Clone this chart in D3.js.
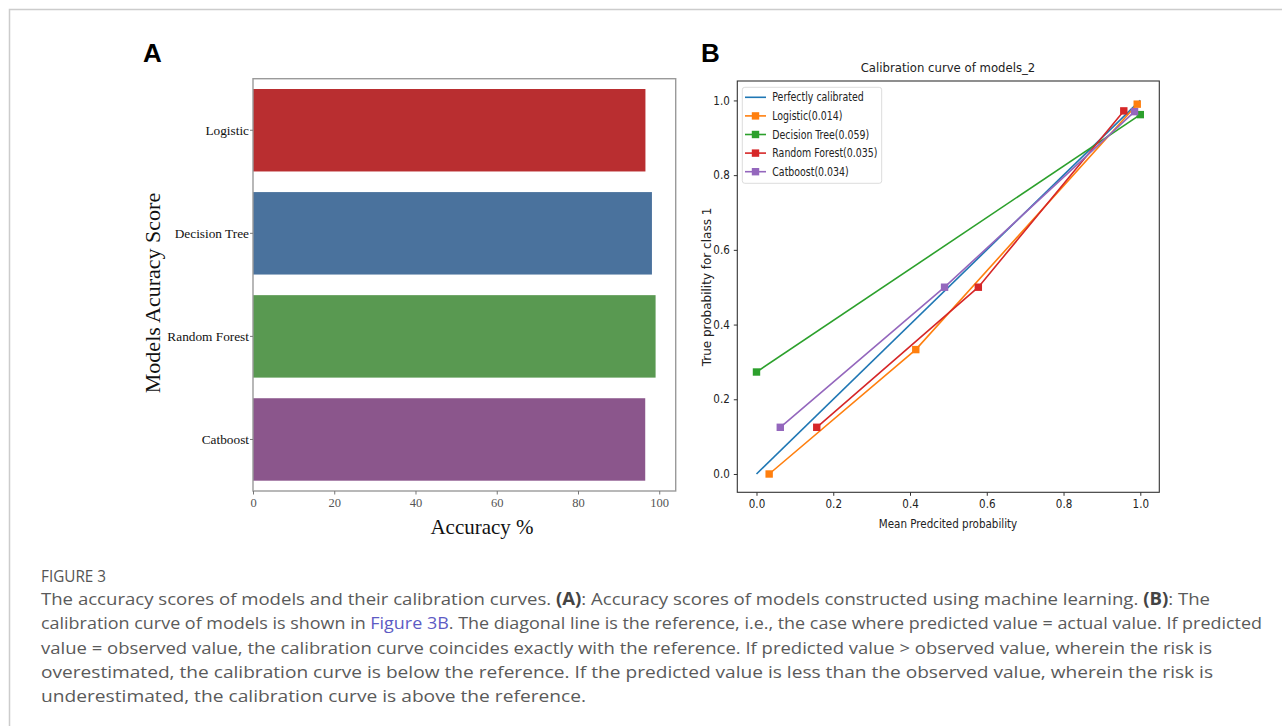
<!doctype html>
<html>
<head>
<meta charset="UTF-8">
<title>Figure 3</title>
<script src="https://d3js.org/d3.v7.min.js"></script>
<style>
  body{ margin:0; background:#fff; }
  svg{ display:block; }
  .serif{ font-family:"Liberation Serif","Times New Roman",serif; }
  .cond{ font-family:"DejaVu Sans Condensed","DejaVu Sans",sans-serif; font-stretch:condensed; }
</style>
</head>
<body>
<svg id="fig" width="1282" height="726"></svg>
<script>
// panel A data
var models = ["Logistic", "Decision Tree", "Random Forest", "Catboost"];
var accuracy = [96.6, 98.2, 99.1, 96.55];
var barColors = ["#b92e30", "#4a729d", "#599951", "#8b568c"];
var accTicks = [0, 20, 40, 60, 80, 100];

// panel B data
var curveNames = ["Perfectly calibrated", "Logistic(0.014)", "Decision Tree(0.059)", "Random Forest(0.035)", "Catboost(0.034)"];
var curveColors = ["#1f77b4", "#ff7f0e", "#2ca02c", "#d62728", "#9467bd"];
var curveX = [
  [0, 1],
  [0.033, 0.415, 0.992],
  [0.0, 1.0],
  [0.157, 0.578, 0.957],
  [0.062, 0.49, 0.985]
];
var curveY = [
  [0, 1],
  [0.0, 0.333, 0.99],
  [0.273, 0.962],
  [0.125, 0.5, 0.972],
  [0.125, 0.5, 0.97]
];
var probTicks = [0, 0.2, 0.4, 0.6, 0.8, 1.0];

var svg = d3.select("#fig");

// figure frame
svg.append("path").attr("d", "M9.5,726 V9.5 H1282").attr("fill", "none").attr("stroke", "#cccccc").attr("stroke-width", 1.5);

svg.append("text").attr("x", 143).attr("y", 62).text("A")
  .attr("font-family", "Liberation Sans, Arial, sans-serif").attr("font-weight", "bold").attr("font-size", 26);
svg.append("text").attr("x", 701).attr("y", 62).text("B")
  .attr("font-family", "Liberation Sans, Arial, sans-serif").attr("font-weight", "bold").attr("font-size", 26);

// ---------- panel A ----------
var a = {left: 253, right: 675.7, top: 78.7, bottom: 491};
var xA = d3.scaleLinear().domain([0, 104.05]).range([a.left, a.right]);
var yA = d3.scaleBand().domain(models).range([a.top, a.bottom]).paddingInner(0.2).paddingOuter(0.1);
var gA = svg.append("g");

gA.selectAll("rect.bar").data(models).enter().append("rect")
  .attr("class", "bar")
  .attr("x", xA(0))
  .attr("y", function(d){ return yA(d); })
  .attr("width", function(d, i){ return xA(accuracy[i]) - xA(0); })
  .attr("height", yA.bandwidth())
  .attr("fill", function(d, i){ return barColors[i]; });

gA.append("rect").attr("x", a.left).attr("y", a.top)
  .attr("width", a.right - a.left).attr("height", a.bottom - a.top)
  .attr("fill", "none").attr("stroke", "#9a9a9a").attr("stroke-width", 1.4);

var axA = gA.append("g").attr("transform", "translate(0," + a.bottom + ")")
  .call(d3.axisBottom(xA).tickValues(accTicks).tickSize(3.5).tickPadding(4).tickFormat(d3.format("d")));
axA.select(".domain").remove();
axA.selectAll("line").attr("stroke", "#777");
axA.selectAll("text").attr("class", "serif").attr("font-size", 12.5).attr("fill", "#555");

var ayA = gA.append("g").attr("transform", "translate(" + a.left + ",0)")
  .call(d3.axisLeft(yA).tickSize(3).tickPadding(1));
ayA.select(".domain").remove();
ayA.selectAll("line").attr("stroke", "#777");
ayA.selectAll("text").attr("class", "serif").attr("font-size", 13.3).attr("fill", "#111");

gA.append("text").attr("class", "serif").attr("x", 482).attr("y", 534)
  .attr("text-anchor", "middle").attr("font-size", 21).attr("fill", "#111").text("Accuracy %");
gA.append("text").attr("class", "serif").attr("transform", "translate(160,293) rotate(-90)")
  .attr("text-anchor", "middle").attr("font-size", 22).attr("fill", "#111").text("Models Acuracy Score");

// ---------- panel B ----------
var b = {left: 737.3, right: 1159.3, top: 81, bottom: 492.3};
var xB = d3.scaleLinear().domain([-0.05, 1.0495]).range([b.left, b.right]);
var yB = d3.scaleLinear().domain([-0.049, 1.052]).range([b.bottom, b.top]);
var gB = svg.append("g");

var line = d3.line().x(function(d){ return xB(d[0]); }).y(function(d){ return yB(d[1]); });
curveNames.forEach(function(name, i){
  var pts = d3.zip(curveX[i], curveY[i]);
  gB.append("path").attr("d", line(pts)).attr("fill", "none")
    .attr("stroke", curveColors[i]).attr("stroke-width", 1.6);
  if (i > 0) {
    gB.selectAll(null).data(pts).enter().append("rect")
      .attr("x", function(d){ return xB(d[0]) - 3.7; })
      .attr("y", function(d){ return yB(d[1]) - 3.7; })
      .attr("width", 7.4).attr("height", 7.4)
      .attr("fill", curveColors[i]);
  }
});

gB.append("rect").attr("x", b.left).attr("y", b.top)
  .attr("width", b.right - b.left).attr("height", b.bottom - b.top)
  .attr("fill", "none").attr("stroke", "#333").attr("stroke-width", 1.1);

var axB = gB.append("g").attr("transform", "translate(0," + b.bottom + ")")
  .call(d3.axisBottom(xB).tickValues(probTicks).tickSize(3.5).tickPadding(4).tickFormat(d3.format(".1f")));
axB.select(".domain").remove();
axB.selectAll("line").attr("stroke", "#333");
axB.selectAll("text").attr("class", "cond").attr("font-size", 11.5).attr("fill", "#222");

var ayB = gB.append("g").attr("transform", "translate(" + b.left + ",0)")
  .call(d3.axisLeft(yB).tickValues(probTicks).tickSize(3.5).tickPadding(4).tickFormat(d3.format(".1f")));
ayB.select(".domain").remove();
ayB.selectAll("line").attr("stroke", "#333");
ayB.selectAll("text").attr("class", "cond").attr("font-size", 11.5).attr("fill", "#222");

gB.append("text").attr("class", "cond").attr("x", 948).attr("y", 72)
  .attr("text-anchor", "middle").attr("font-size", 13).attr("fill", "#222").text("Calibration curve of models_2");
gB.append("text").attr("class", "cond").attr("x", 948).attr("y", 528)
  .attr("text-anchor", "middle").attr("font-size", 11.5).attr("fill", "#222").text("Mean Predcited probability");
gB.append("text").attr("transform", "translate(711,287) rotate(-90)")
  .attr("font-family", "DejaVu Sans, sans-serif")
  .attr("text-anchor", "middle").attr("font-size", 12).attr("fill", "#222").text("True probability for class 1");

// legend
var lg = gB.append("g");
lg.append("rect").attr("x", 742.3).attr("y", 87.3).attr("width", 139.4).attr("height", 96)
  .attr("rx", 2.5).attr("fill", "#fff").attr("fill-opacity", 0.85).attr("stroke", "#dcdcdc");
curveNames.forEach(function(name, i){
  var yy = 97.3 + i * 18.6;
  lg.append("line").attr("x1", 745).attr("x2", 766).attr("y1", yy).attr("y2", yy)
    .attr("stroke", curveColors[i]).attr("stroke-width", 1.6);
  if (i > 0) {
    lg.append("rect").attr("x", 755.5 - 3.7).attr("y", yy - 3.7).attr("width", 7.4).attr("height", 7.4)
      .attr("fill", curveColors[i]);
  }
  var t = lg.append("text").attr("class", "cond").attr("x", 772.3).attr("y", yy + 4)
    .attr("font-size", 11.5).attr("fill", "#222").text(name);
  var w = t.node().getComputedTextLength();
  t.attr("textLength", w * 0.91).attr("lengthAdjust", "spacingAndGlyphs");
});

// ---------- caption ----------
var cap = svg.append("g").attr("font-family", "Open Sans, Noto Sans, sans-serif").attr("fill", "#5a5a5a");
cap.append("text").attr("x", 41).attr("y", 582).attr("font-size", 17).attr("fill", "#555")
  .attr("textLength", 65).attr("lengthAdjust", "spacingAndGlyphs").text("FIGURE 3");

var capLines = [
  [["The accuracy scores of models and their calibration curves. ", 0], ["(A)", 1], [": Accuracy scores of models constructed using machine learning. ", 0], ["(B)", 1], [": The", 0]],
  [["calibration curve of models is shown in ", 0], ["Figure 3B", 2], [". The diagonal line is the reference, i.e., the case where predicted value = actual value. If predicted", 0]],
  [["value = observed value, the calibration curve coincides exactly with the reference. If predicted value > observed value, wherein the risk is", 0]],
  [["overestimated, the calibration curve is below the reference. If the predicted value is less than the observed value, wherein the risk is", 0]],
  [["underestimated, the calibration curve is above the reference.", 0]]
];
var capEnds = [1210, 1262, 1212, 1213, 586];
capLines.forEach(function(parts, i){
  var t = cap.append("text").attr("x", 41).attr("y", 605 + i * 24.3).attr("font-size", 17)
    .attr("textLength", capEnds[i] - 41).attr("lengthAdjust", "spacingAndGlyphs");
  parts.forEach(function(p){
    var s = t.append("tspan").text(p[0]);
    if (p[1] === 1) s.attr("font-weight", "bold").attr("fill", "#444");
    if (p[1] === 2) s.attr("fill", "#5d5bc4");
  });
});
</script>
</body>
</html>
